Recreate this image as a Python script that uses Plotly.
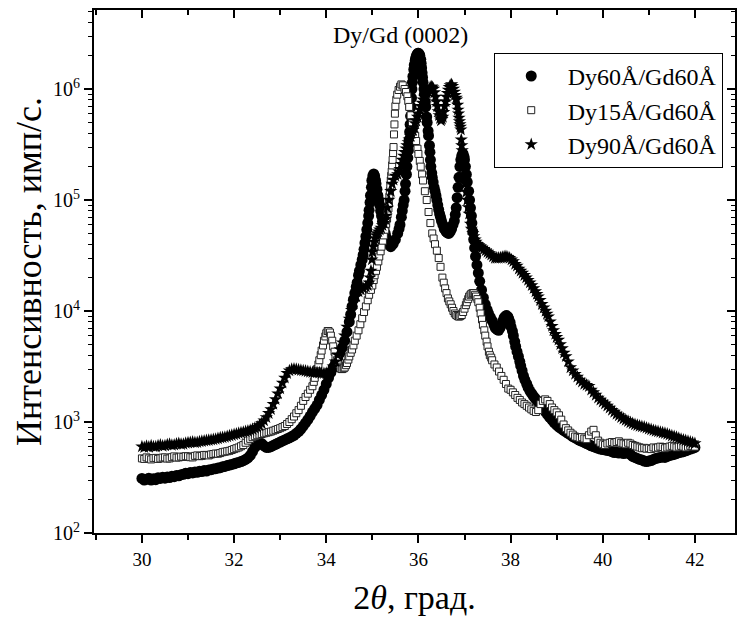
import plotly.graph_objects as go

# Measured (2θ, intensity) pairs for each multilayer
dy60 = [
    (30.00, 310), (30.05, 300), (30.10, 305), (30.15, 312), (30.20, 300), (30.25, 308),
    (30.30, 302), (30.35, 315), (30.40, 310), (30.45, 318), (30.50, 312), (30.55, 320),
    (30.60, 316), (30.65, 325), (30.70, 322), (30.75, 330), (30.80, 328), (30.85, 335),
    (30.90, 338), (30.95, 345), (31.00, 342), (31.05, 350), (31.10, 348), (31.15, 355),
    (31.20, 352), (31.25, 360), (31.30, 358), (31.35, 365), (31.40, 362), (31.45, 370),
    (31.50, 372), (31.55, 378), (31.60, 380), (31.65, 385), (31.70, 388), (31.75, 395),
    (31.80, 398), (31.85, 405), (31.90, 410), (31.95, 415), (32.00, 420), (32.05, 428),
    (32.10, 432), (32.15, 440), (32.20, 448), (32.25, 460), (32.30, 475), (32.35, 500),
    (32.40, 540), (32.45, 590), (32.50, 630), (32.55, 650), (32.60, 640), (32.65, 610),
    (32.70, 590), (32.75, 590), (32.80, 600), (32.85, 615), (32.90, 630), (32.95, 645),
    (33.00, 660), (33.05, 675), (33.10, 690), (33.15, 705), (33.20, 720), (33.25, 740),
    (33.30, 760), (33.35, 790), (33.40, 820), (33.45, 865), (33.50, 920), (33.55, 980),
    (33.60, 1050), (33.65, 1130), (33.70, 1230), (33.75, 1320), (33.80, 1420), (33.85, 1580),
    (33.90, 1750), (33.95, 1950), (34.00, 2200), (34.05, 2500), (34.10, 2800), (34.15, 3100),
    (34.20, 3400), (34.25, 3800), (34.30, 4200), (34.35, 4700), (34.40, 5400), (34.45, 6500),
    (34.50, 8000), (34.53, 9300), (34.56, 11000), (34.59, 12700), (34.62, 14500), (34.65, 16500),
    (34.67, 18000), (34.70, 21000), (34.72, 23000), (34.75, 26000), (34.78, 29000), (34.80, 32000),
    (34.82, 36000), (34.84, 41000), (34.86, 47000), (34.88, 54000), (34.90, 62000), (34.92, 72000),
    (34.93, 81000), (34.95, 95000), (34.96, 110000), (34.98, 130000), (34.99, 150000), (35.01, 165000),
    (35.03, 172000), (35.05, 165000), (35.07, 150000), (35.08, 140000), (35.10, 125000), (35.12, 110000),
    (35.14, 100000), (35.16, 90000), (35.18, 80000), (35.20, 72000), (35.22, 64000), (35.25, 55000),
    (35.28, 50000), (35.30, 46000), (35.35, 40000), (35.40, 38000), (35.45, 40000), (35.50, 44000),
    (35.55, 50000), (35.58, 55000), (35.60, 60000), (35.63, 70000), (35.65, 80000), (35.67, 90000),
    (35.69, 100000), (35.71, 120000), (35.72, 140000), (35.74, 170000), (35.75, 200000), (35.77, 240000),
    (35.78, 280000), (35.79, 315000), (35.80, 350000), (35.81, 410000), (35.82, 480000), (35.83, 570000),
    (35.84, 690000), (35.85, 830000), (35.86, 1000000), (35.87, 1150000), (35.88, 1300000), (35.90, 1500000),
    (35.91, 1650000), (35.93, 1800000), (35.94, 1900000), (35.96, 2000000), (35.97, 2050000), (35.99, 2100000),
    (36.00, 2100000), (36.02, 2050000), (36.03, 2000000), (36.05, 1850000), (36.06, 1700000), (36.07, 1550000),
    (36.08, 1400000), (36.09, 1270000), (36.10, 1150000), (36.12, 1000000), (36.13, 900000), (36.15, 770000),
    (36.16, 690000), (36.18, 560000), (36.19, 500000), (36.21, 420000), (36.22, 380000), (36.24, 310000),
    (36.25, 270000), (36.26, 230000), (36.27, 200000), (36.29, 175000), (36.30, 160000), (36.32, 145000),
    (36.34, 130000), (36.36, 120000), (36.38, 110000), (36.40, 100000), (36.42, 90000), (36.44, 82000),
    (36.46, 75000), (36.48, 70000), (36.50, 65000), (36.53, 60000), (36.56, 55000), (36.60, 52000),
    (36.63, 50500), (36.66, 50000), (36.69, 52000), (36.72, 55000), (36.75, 60000), (36.78, 65000),
    (36.80, 74000), (36.82, 85000), (36.84, 105000), (36.86, 130000), (36.88, 160000), (36.90, 200000),
    (36.92, 230000), (36.94, 250000), (36.96, 260000), (36.97, 260000), (36.99, 245000), (37.00, 230000),
    (37.02, 200000), (37.04, 170000), (37.06, 145000), (37.09, 120000), (37.11, 100000), (37.13, 85000),
    (37.15, 72000), (37.16, 62000), (37.18, 52000), (37.20, 44000), (37.22, 37000), (37.24, 31000),
    (37.27, 26000), (37.30, 22000), (37.33, 18500), (37.37, 15500), (37.41, 13200), (37.45, 11500),
    (37.49, 10300), (37.52, 9500), (37.56, 8800), (37.60, 8200), (37.64, 7500), (37.67, 7000),
    (37.71, 6800), (37.74, 6700), (37.77, 7000), (37.80, 7500), (37.83, 8100), (37.86, 8700),
    (37.89, 9000), (37.91, 9100), (37.94, 8900), (37.96, 8500), (37.99, 7900), (38.01, 7200),
    (38.04, 6600), (38.06, 6000), (38.09, 5300), (38.11, 4800), (38.14, 4300), (38.17, 3900),
    (38.20, 3500), (38.22, 3200), (38.25, 2900), (38.28, 2600), (38.31, 2400), (38.35, 2200),
    (38.38, 2050), (38.42, 1900), (38.46, 1800), (38.50, 1700), (38.54, 1620), (38.58, 1550),
    (38.62, 1470), (38.65, 1400), (38.70, 1320), (38.75, 1250), (38.80, 1170), (38.85, 1100),
    (38.90, 1040), (38.95, 980), (39.00, 940), (39.05, 900), (39.10, 870), (39.15, 840),
    (39.20, 815), (39.25, 790), (39.30, 765), (39.35, 740), (39.40, 720), (39.45, 700),
    (39.50, 685), (39.55, 670), (39.60, 655), (39.65, 640), (39.70, 625), (39.75, 610),
    (39.80, 600), (39.85, 590), (39.90, 580), (39.95, 570), (40.00, 565), (40.05, 560),
    (40.10, 555), (40.15, 550), (40.20, 540), (40.25, 530), (40.30, 535), (40.35, 525),
    (40.40, 530), (40.45, 520), (40.50, 525), (40.55, 530), (40.60, 510), (40.65, 490),
    (40.70, 480), (40.75, 470), (40.80, 460), (40.85, 455), (40.90, 445), (40.95, 440),
    (41.00, 445), (41.05, 450), (41.10, 460), (41.15, 470), (41.20, 475), (41.25, 480),
    (41.30, 485), (41.35, 480), (41.40, 490), (41.45, 500), (41.50, 505), (41.55, 510),
    (41.60, 520), (41.65, 530), (41.70, 535), (41.75, 540), (41.80, 550), (41.85, 560),
    (41.90, 570), (41.95, 580), (42.00, 590),
]

dy15 = [
    (30.00, 470), (30.05, 465), (30.10, 480), (30.15, 470), (30.20, 460), (30.25, 472),
    (30.30, 475), (30.35, 465), (30.40, 470), (30.45, 478), (30.50, 480), (30.55, 468),
    (30.60, 470), (30.65, 482), (30.70, 490), (30.75, 478), (30.80, 480), (30.85, 488),
    (30.90, 485), (30.95, 492), (31.00, 490), (31.05, 482), (31.10, 480), (31.15, 495),
    (31.20, 500), (31.25, 492), (31.30, 495), (31.35, 505), (31.40, 505), (31.45, 500),
    (31.50, 510), (31.55, 515), (31.60, 520), (31.65, 518), (31.70, 525), (31.75, 535),
    (31.80, 540), (31.85, 545), (31.90, 550), (31.95, 560), (32.00, 570), (32.05, 580),
    (32.10, 590), (32.15, 605), (32.20, 620), (32.25, 650), (32.30, 680), (32.35, 705),
    (32.40, 730), (32.45, 745), (32.50, 760), (32.55, 770), (32.60, 780), (32.65, 790),
    (32.70, 800), (32.75, 810), (32.80, 820), (32.85, 835), (32.90, 850), (32.95, 865),
    (33.00, 880), (33.05, 900), (33.10, 920), (33.15, 960), (33.20, 1000), (33.25, 1060),
    (33.30, 1120), (33.35, 1200), (33.40, 1280), (33.45, 1400), (33.50, 1550), (33.55, 1680),
    (33.60, 1800), (33.65, 1950), (33.70, 2100), (33.73, 2300), (33.75, 2500), (33.78, 2750),
    (33.80, 3000), (33.83, 3300), (33.85, 3600), (33.88, 4000), (33.90, 4400), (33.93, 4900),
    (33.95, 5400), (33.98, 5900), (34.00, 6300), (34.03, 6600), (34.05, 6600), (34.08, 6400),
    (34.10, 6000), (34.13, 5400), (34.15, 4800), (34.18, 4300), (34.20, 3900), (34.23, 3600),
    (34.25, 3300), (34.28, 3150), (34.30, 3050), (34.33, 3000), (34.35, 3000), (34.38, 3050),
    (34.40, 3100), (34.43, 3250), (34.45, 3400), (34.48, 3650), (34.50, 3900), (34.53, 4200),
    (34.56, 4500), (34.59, 4900), (34.62, 5400), (34.66, 6000), (34.70, 6700), (34.74, 7600),
    (34.78, 8600), (34.82, 9800), (34.86, 11000), (34.90, 12500), (34.93, 14000), (34.97, 15500),
    (35.00, 17000), (35.03, 19000), (35.05, 21000), (35.08, 23000), (35.10, 25000), (35.13, 28000),
    (35.15, 31000), (35.18, 34500), (35.20, 38000), (35.23, 43000), (35.25, 48000), (35.28, 54000),
    (35.30, 61000), (35.32, 68000), (35.33, 75000), (35.35, 84000), (35.36, 94000), (35.37, 107000),
    (35.38, 120000), (35.39, 135000), (35.40, 150000), (35.41, 165000), (35.42, 180000), (35.43, 205000),
    (35.44, 230000), (35.45, 265000), (35.46, 300000), (35.47, 390000), (35.48, 480000), (35.49, 600000),
    (35.50, 700000), (35.52, 800000), (35.54, 890000), (35.57, 980000), (35.60, 1050000), (35.63, 1100000),
    (35.66, 1080000), (35.70, 1000000), (35.73, 940000), (35.76, 860000), (35.78, 780000), (35.80, 690000),
    (35.83, 580000), (35.86, 490000), (35.90, 420000), (35.93, 380000), (35.95, 340000), (35.98, 290000),
    (36.00, 260000), (36.03, 225000), (36.05, 200000), (36.08, 170000), (36.10, 150000), (36.14, 120000),
    (36.18, 100000), (36.22, 78000), (36.26, 62000), (36.30, 50000), (36.33, 45000), (36.36, 40000),
    (36.40, 35000), (36.44, 30000), (36.48, 25000), (36.52, 20000), (36.55, 18000), (36.58, 16000),
    (36.61, 14500), (36.64, 13000), (36.67, 12200), (36.70, 11500), (36.73, 10700), (36.76, 10000),
    (36.79, 9500), (36.82, 9200), (36.85, 9000), (36.88, 8900), (36.91, 9000), (36.94, 9200),
    (36.97, 9800), (37.00, 10500), (37.03, 11300), (37.05, 12000), (37.08, 12800), (37.10, 13500),
    (37.13, 14000), (37.15, 14300), (37.18, 14500), (37.20, 14500), (37.23, 14000), (37.25, 13500),
    (37.28, 12800), (37.30, 12000), (37.33, 10700), (37.35, 9500), (37.38, 8400), (37.40, 7500),
    (37.43, 6700), (37.45, 6000), (37.48, 5300), (37.50, 4800), (37.53, 4300), (37.55, 4000),
    (37.58, 3800), (37.60, 3600), (37.65, 3300), (37.70, 3100), (37.75, 2850), (37.80, 2600),
    (37.85, 2400), (37.90, 2200), (37.95, 2000), (38.00, 1950), (38.05, 1850), (38.10, 1750),
    (38.15, 1650), (38.20, 1580), (38.25, 1500), (38.30, 1450), (38.35, 1400), (38.40, 1350),
    (38.45, 1300), (38.50, 1260), (38.55, 1230), (38.60, 1280), (38.65, 1450), (38.70, 1550),
    (38.75, 1600), (38.80, 1550), (38.85, 1450), (38.90, 1350), (38.95, 1280), (39.00, 1220),
    (39.05, 1150), (39.10, 1050), (39.15, 950), (39.20, 880), (39.25, 840), (39.30, 800),
    (39.35, 770), (39.40, 740), (39.45, 730), (39.50, 720), (39.55, 730), (39.60, 710),
    (39.65, 700), (39.70, 760), (39.75, 820), (39.80, 850), (39.85, 760), (39.90, 680),
    (39.95, 650), (40.00, 630), (40.05, 620), (40.10, 640), (40.15, 650), (40.20, 660),
    (40.25, 650), (40.30, 660), (40.35, 670), (40.40, 650), (40.45, 640), (40.50, 630),
    (40.55, 650), (40.60, 640), (40.65, 620), (40.70, 610), (40.75, 600), (40.80, 590),
    (40.85, 580), (40.90, 585), (40.95, 575), (41.00, 580), (41.05, 570), (41.10, 590),
    (41.15, 580), (41.20, 590), (41.25, 600), (41.30, 595), (41.35, 580), (41.40, 590),
    (41.45, 600), (41.50, 610), (41.55, 600), (41.60, 590), (41.65, 600), (41.70, 610),
    (41.75, 600), (41.80, 590), (41.85, 600), (41.90, 610), (41.95, 605), (42.00, 600),
]

dy90 = [
    (30.00, 600), (30.05, 590), (30.10, 605), (30.15, 595), (30.20, 610), (30.25, 600),
    (30.30, 598), (30.35, 612), (30.40, 620), (30.45, 608), (30.50, 612), (30.55, 625),
    (30.60, 630), (30.65, 618), (30.70, 622), (30.75, 635), (30.80, 640), (30.85, 630),
    (30.90, 632), (30.95, 645), (31.00, 650), (31.05, 655), (31.10, 660), (31.15, 652),
    (31.20, 655), (31.25, 665), (31.30, 670), (31.35, 675), (31.40, 680), (31.45, 685),
    (31.50, 690), (31.55, 695), (31.60, 700), (31.65, 710), (31.70, 720), (31.75, 725),
    (31.80, 730), (31.85, 740), (31.90, 750), (31.95, 760), (32.00, 770), (32.05, 780),
    (32.10, 790), (32.15, 800), (32.20, 810), (32.25, 820), (32.30, 830), (32.35, 845),
    (32.40, 860), (32.45, 880), (32.50, 900), (32.55, 930), (32.60, 970), (32.65, 1030),
    (32.70, 1100), (32.75, 1200), (32.80, 1300), (32.85, 1450), (32.90, 1600), (32.95, 1800),
    (33.00, 2000), (33.05, 2250), (33.10, 2500), (33.15, 2750), (33.20, 2900), (33.25, 2980),
    (33.30, 3000), (33.35, 2980), (33.40, 2950), (33.45, 2920), (33.50, 2900), (33.55, 2880),
    (33.60, 2850), (33.65, 2820), (33.70, 2800), (33.75, 2800), (33.80, 2800), (33.85, 2780),
    (33.90, 2750), (33.95, 2740), (34.00, 2750), (34.05, 2800), (34.10, 2900), (34.15, 3150),
    (34.20, 3500), (34.25, 4000), (34.30, 4500), (34.35, 5200), (34.40, 6000), (34.45, 7200),
    (34.50, 8500), (34.55, 10200), (34.60, 12000), (34.65, 13500), (34.70, 15000), (34.75, 15500),
    (34.80, 16000), (34.86, 16500), (34.90, 17000), (34.93, 18000), (34.95, 20000), (34.97, 23000),
    (34.99, 29000), (35.00, 34000), (35.02, 38000), (35.04, 42000), (35.06, 45000), (35.08, 48000),
    (35.10, 50000), (35.13, 52000), (35.16, 54000), (35.19, 56000), (35.22, 59000), (35.25, 62000),
    (35.28, 67000), (35.30, 72000), (35.33, 85000), (35.36, 100000), (35.40, 120000), (35.43, 140000),
    (35.46, 152000), (35.50, 165000), (35.55, 170000), (35.58, 180000), (35.60, 190000), (35.63, 210000),
    (35.65, 230000), (35.68, 250000), (35.70, 270000), (35.73, 290000), (35.75, 310000), (35.78, 330000),
    (35.80, 350000), (35.83, 375000), (35.85, 400000), (35.88, 425000), (35.90, 450000), (35.93, 490000),
    (35.95, 520000), (35.98, 560000), (36.00, 600000), (36.03, 650000), (36.05, 700000), (36.08, 750000),
    (36.10, 800000), (36.13, 850000), (36.15, 880000), (36.18, 920000), (36.20, 950000), (36.23, 990000),
    (36.25, 1020000), (36.27, 1040000), (36.29, 1050000), (36.31, 1030000), (36.33, 1000000), (36.35, 930000),
    (36.37, 850000), (36.39, 770000), (36.41, 700000), (36.43, 630000), (36.45, 580000), (36.47, 545000),
    (36.49, 520000), (36.51, 535000), (36.53, 560000), (36.55, 620000), (36.57, 700000), (36.59, 770000),
    (36.61, 850000), (36.63, 920000), (36.65, 980000), (36.67, 1040000), (36.69, 1080000), (36.72, 1100000),
    (36.74, 1060000), (36.76, 1000000), (36.78, 940000), (36.80, 880000), (36.82, 830000), (36.83, 800000),
    (36.85, 720000), (36.86, 650000), (36.87, 600000), (36.88, 550000), (36.89, 510000), (36.90, 480000),
    (36.91, 455000), (36.92, 430000), (36.93, 350000), (36.94, 310000), (36.95, 280000), (36.97, 235000),
    (36.98, 200000), (37.00, 170000), (37.02, 140000), (37.04, 118000), (37.06, 100000), (37.08, 86000),
    (37.10, 75000), (37.13, 61000), (37.15, 55000), (37.18, 50000), (37.20, 47000), (37.23, 44000),
    (37.25, 42000), (37.28, 40000), (37.31, 39000), (37.35, 38000), (37.38, 37000), (37.42, 36000),
    (37.46, 35000), (37.50, 34000), (37.54, 33000), (37.58, 32000), (37.62, 31000), (37.66, 30000),
    (37.70, 30000), (37.74, 30000), (37.78, 30200), (37.82, 30500), (37.86, 30800), (37.90, 31000),
    (37.94, 30500), (37.98, 30000), (38.02, 29000), (38.06, 28000), (38.10, 26500), (38.14, 25500),
    (38.18, 24000), (38.22, 23000), (38.26, 22000), (38.30, 21000), (38.34, 20000), (38.38, 19000),
    (38.42, 18000), (38.46, 17000), (38.50, 16000), (38.54, 15000), (38.57, 14200), (38.60, 13500),
    (38.64, 12500), (38.68, 11500), (38.72, 10700), (38.76, 10000), (38.79, 9400), (38.82, 8900),
    (38.86, 8000), (38.90, 7300), (38.93, 6700), (38.97, 6200), (39.00, 5800), (39.04, 5500),
    (39.08, 5000), (39.12, 4600), (39.16, 4200), (39.20, 3900), (39.25, 3500), (39.30, 3100),
    (39.35, 2900), (39.40, 2700), (39.45, 2550), (39.50, 2400), (39.55, 2300), (39.60, 2200),
    (39.65, 2150), (39.70, 2100), (39.75, 1950), (39.80, 1850), (39.85, 1750), (39.90, 1650),
    (39.95, 1580), (40.00, 1520), (40.05, 1460), (40.10, 1400), (40.15, 1340), (40.20, 1280),
    (40.25, 1230), (40.30, 1180), (40.35, 1140), (40.40, 1100), (40.45, 1070), (40.50, 1040),
    (40.55, 1015), (40.60, 990), (40.65, 970), (40.70, 950), (40.75, 935), (40.80, 920),
    (40.85, 910), (40.90, 900), (40.95, 885), (41.00, 870), (41.05, 855), (41.10, 840),
    (41.15, 830), (41.20, 820), (41.25, 810), (41.30, 800), (41.35, 790), (41.40, 780),
    (41.45, 765), (41.50, 750), (41.55, 740), (41.60, 730), (41.65, 715), (41.70, 700),
    (41.75, 690), (41.80, 680), (41.85, 670), (41.90, 660), (41.95, 650), (42.00, 640),
]

series_names = ["Dy60Å/Gd60Å", "Dy15Å/Gd60Å", "Dy90Å/Gd60Å"]

# Axis ticks
x_major = [30, 32, 34, 36, 38, 40, 42]
x_minor = [29, 31, 33, 35, 37, 39, 41, 43]
y_major = [1e2, 1e3, 1e4, 1e5, 1e6]
y_major_text = ["10<sup>2</sup>", "10<sup>3</sup>", "10<sup>4</sup>",
                "10<sup>5</sup>", "10<sup>6</sup>"]
y_minor = [m * 10 ** e for e in range(2, 7) for m in range(2, 10)]

FONT = "Liberation Serif, Times New Roman, serif"
X_RANGE = [28.96, 42.87]
Y_RANGE = [2, 6.712]


def unzip(pairs):
    return [p[0] for p in pairs], [p[1] for p in pairs]


fig = go.Figure()

x, y = unzip(dy60)
fig.add_trace(go.Scatter(
    x=x, y=y, mode="markers", name=series_names[0],
    marker=dict(symbol="circle", size=11, color="black", line=dict(width=0)),
))
x, y = unzip(dy15)
fig.add_trace(go.Scatter(
    x=x, y=y, mode="markers", name=series_names[1],
    marker=dict(symbol="square", size=7, color="white",
                line=dict(width=1, color="#222222")),
))
x, y = unzip(dy90)
fig.add_trace(go.Scatter(
    x=x, y=y, mode="markers", name=series_names[2],
    marker=dict(symbol="star", size=10, color="black", line=dict(width=0)),
))
# empty trace that carries the mirrored (inside-tick) axes on top and right
fig.add_trace(go.Scatter(x=[None], y=[None], xaxis="x2", yaxis="y2",
                         showlegend=False, hoverinfo="skip"))

axis_common = dict(showgrid=False, zeroline=False, linecolor="black",
                   linewidth=2, tickcolor="black", tickwidth=1.5)

fig.update_layout(
    width=737, height=625,
    margin=dict(l=94, r=0, t=10, b=92),
    paper_bgcolor="white", plot_bgcolor="white",
    font=dict(family=FONT, color="black"),
    xaxis=dict(
        **axis_common, range=X_RANGE, showline=True, mirror=True,
        ticks="outside", ticklen=8, tickmode="array", tickvals=x_major,
        tickfont=dict(size=19),
        minor=dict(ticks="outside", ticklen=5, tickmode="array",
                   tickvals=x_minor, tickcolor="black", tickwidth=1.5),
        title=dict(text="2<i>θ</i>, град.", font=dict(size=34), standoff=16),
    ),
    yaxis=dict(
        **axis_common, type="log", range=Y_RANGE, showline=True, mirror=True,
        ticks="outside", ticklen=8, tickmode="array", tickvals=y_major,
        ticktext=y_major_text, tickfont=dict(size=20),
        minor=dict(ticks="outside", ticklen=4, tickmode="array",
                   tickvals=y_minor, tickcolor="black", tickwidth=1.2),
        title=dict(text="Интенсивность, имп/с.", font=dict(size=36), standoff=0),
    ),
    xaxis2=dict(
        showgrid=False, zeroline=False, overlaying="x", side="top", anchor="y2",
        range=X_RANGE, showline=False, showticklabels=False,
        ticks="inside", ticklen=8, tickmode="array", tickvals=x_major,
        tickcolor="black", tickwidth=1.5,
        minor=dict(ticks="inside", ticklen=5, tickmode="array",
                   tickvals=x_minor, tickcolor="black", tickwidth=1.5),
    ),
    yaxis2=dict(
        showgrid=False, zeroline=False, overlaying="y", side="right", anchor="x2",
        type="log", range=Y_RANGE, showline=False, showticklabels=False,
        ticks="inside", ticklen=8, tickmode="array", tickvals=y_major,
        tickcolor="black", tickwidth=1.5,
        minor=dict(ticks="inside", ticklen=4, tickmode="array",
                   tickvals=y_minor, tickcolor="black", tickwidth=1.2),
    ),
    legend=dict(
        x=0.6236, y=0.918, xanchor="left", yanchor="top",
        bgcolor="white", bordercolor="black", borderwidth=1,
        font=dict(size=24, family=FONT), itemwidth=63,
        tracegroupgap=0,
    ),
    annotations=[dict(
        text="Dy/Gd (0002)", x=0.4775, y=0.952, xref="paper", yref="paper",
        xanchor="center", yanchor="middle", showarrow=False,
        font=dict(size=24, family=FONT),
    )],
)

fig.write_html("out.html")
